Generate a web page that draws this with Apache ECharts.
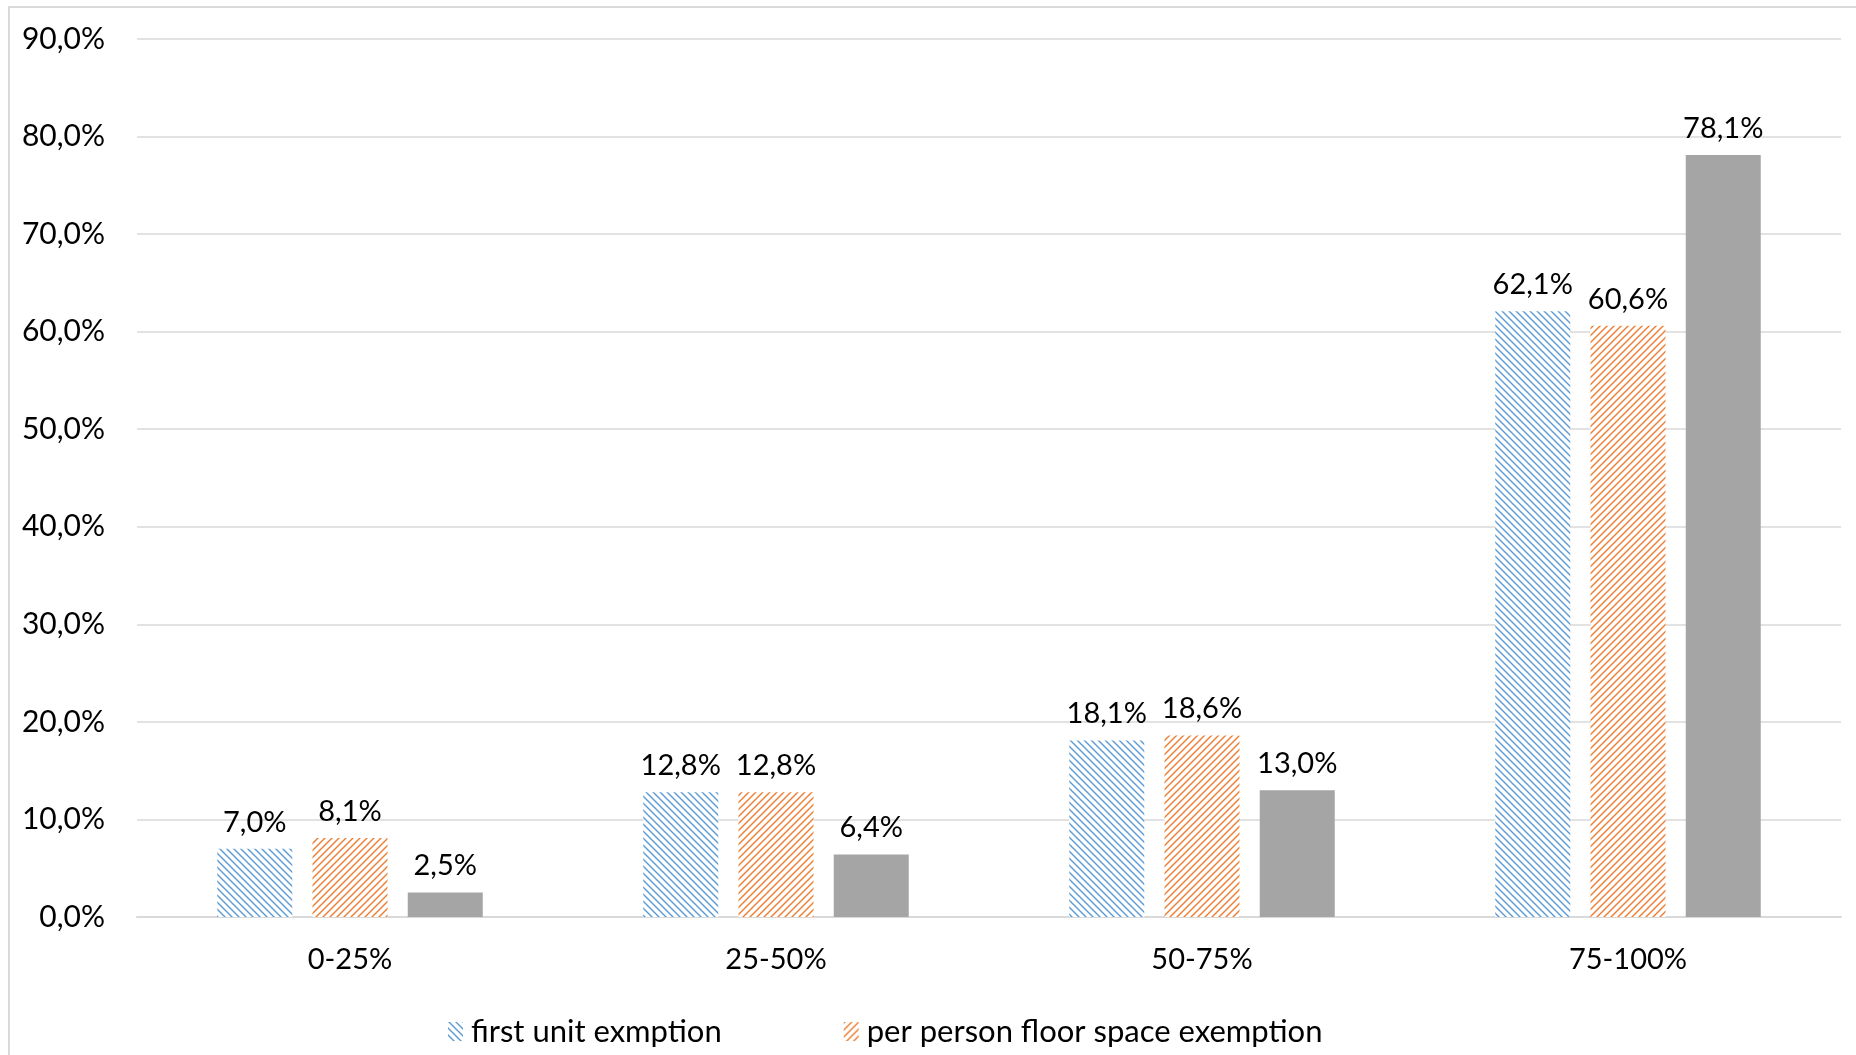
<!DOCTYPE html>
<html>
<head>
<meta charset="utf-8">
<script src="https://cdn.jsdelivr.net/npm/echarts@6/dist/echarts.min.js"></script>
<style>
  html, body { margin: 0; padding: 0; background: #ffffff; }
  #chart { width: 1856px; height: 1055px; }
</style>
</head>
<body>
<div id="chart"></div>
<script>
// Share bands on the x axis
const categories = ['0-25%', '25-50%', '50-75%', '75-100%'];

// Series values (percent)
const firstUnit = [7.0, 12.8, 18.1, 62.1];
const perPersonFloor = [8.1, 12.8, 18.6, 60.6];
const allCases = [2.5, 6.4, 13.0, 78.1];

const seriesNames = ['first unit exmption', 'per person floor space exemption', 'all'];

// Y axis range
const yMin = 0;
const yMax = 90;
const yStep = 10;

const FONT = 'Lato';

// Diagonal-line hatch tile; dir = 1 draws "\" lines, dir = -1 draws "/" lines
function hatch(color, dir) {
  const n = 7;
  const c = document.createElement('canvas');
  c.width = n; c.height = n;
  const ctx = c.getContext('2d');
  ctx.fillStyle = '#ffffff';
  ctx.fillRect(0, 0, n, n);
  ctx.fillStyle = color;
  for (let y = 0; y < n; y++) {
    for (let k = 0; k < 3; k++) {
      const x = dir > 0 ? (y + k) % n : ((n - 1 - y) + k) % n;
      ctx.globalAlpha = k === 1 ? 1 : 0.5;
      ctx.fillRect(x, y, 1, 1);
    }
  }
  return { image: c, repeat: 'repeat' };
}

const fmt = v => v.toFixed(1).replace('.', ',') + '%';

const labelStyle = {
  show: true,
  position: 'top',
  distance: 12,
  color: '#000000',
  fontFamily: FONT,
  fontSize: 29,
  formatter: p => fmt(p.value)
};

const chart = echarts.init(document.getElementById('chart'), null, { renderer: 'canvas' });

chart.setOption({
  backgroundColor: '#ffffff',
  animation: false,
  graphic: [{
    type: 'rect',
    shape: { x: 9, y: 7, width: 2000, height: 2000 },
    style: { fill: null, stroke: '#d9d9d9', lineWidth: 2 },
    silent: true,
    z: -1
  }],
  grid: { left: 137, right: 15, top: 39, bottom: 138, containLabel: false },
  legend: {
    data: [seriesNames[0], seriesNames[1]],
    left: 448,
    top: 1016,
    padding: 0,
    icon: 'rect',
    itemWidth: 15,
    itemHeight: 19,
    itemGap: 122,
    textStyle: { fontFamily: FONT, fontSize: 31, color: '#000000', padding: [0, 0, 0, 3] }
  },
  xAxis: {
    type: 'category',
    data: categories,
    axisLine: { lineStyle: { color: '#d9d9d9', width: 2 } },
    axisTick: { show: false },
    axisLabel: { fontFamily: FONT, fontSize: 29, color: '#000000', margin: 28 }
  },
  yAxis: {
    type: 'value',
    min: yMin,
    max: yMax,
    interval: yStep,
    axisLine: { show: false },
    axisTick: { show: false },
    splitLine: { lineStyle: { color: '#d9d9d9', width: 1.5 } },
    axisLabel: { fontFamily: FONT, fontSize: 30, color: '#000000', margin: 32, formatter: v => fmt(v) }
  },
  series: [
    {
      name: seriesNames[0],
      type: 'bar',
      data: firstUnit,
      barWidth: 75,
      barGap: '27%',
      itemStyle: { color: hatch('#5b9bd5', 1) },
      label: labelStyle
    },
    {
      name: seriesNames[1],
      type: 'bar',
      data: perPersonFloor,
      barWidth: 75,
      barGap: '27%',
      itemStyle: { color: hatch('#ed7d31', -1) },
      label: labelStyle
    },
    {
      name: seriesNames[2],
      type: 'bar',
      data: allCases,
      barWidth: 75,
      barGap: '27%',
      itemStyle: { color: '#a5a5a5' },
      label: labelStyle
    }
  ]
});
</script>
</body>
</html>
